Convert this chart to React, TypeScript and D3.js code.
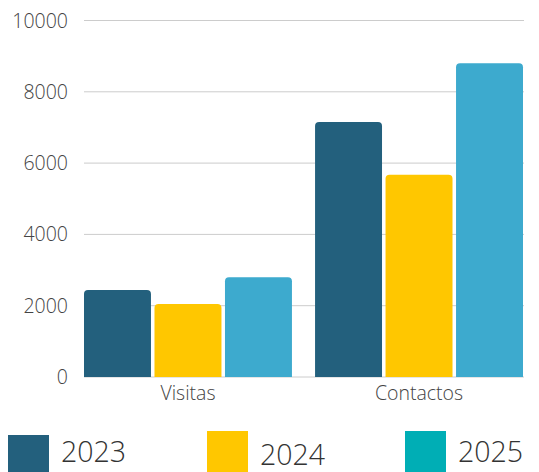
import React from "react";
import * as d3 from "d3";

const categories = ["Visitas", "Contactos"];
const seriesNames = ["2023", "2024", "2025"];
const values2023 = [2440, 7150];
const values2024 = [2050, 5670];
const values2025 = [2800, 8800];
const barColors = ["#23607D", "#FFC700", "#3DAACE"];
const legendColors = ["#23607D", "#FFC700", "#00AEB5"];
const yTicks = [0, 2000, 4000, 6000, 8000, 10000];

const W = 539;
const H = 472;
const font = "'Open Sans', sans-serif";

function topRoundedRect(x: number, y: number, w: number, h: number, r: number) {
  const rr = Math.min(r, h, w / 2);
  return `M${x},${y + h}V${y + rr}Q${x},${y} ${x + rr},${y}H${x + w - rr}Q${x + w},${y} ${x + w},${y + rr}V${y + h}Z`;
}

export default function App() {
  const series = [values2023, values2024, values2025];
  const y = d3.scaleLinear().domain([0, 10000]).range([377, 20.5]);
  const x0 = d3.scaleBand<string>().domain(categories).range([84, 523]).paddingInner(0.1).paddingOuter(0);
  const x1 = d3.scaleBand<string>().domain(seriesNames).range([0, x0.bandwidth()]).paddingInner(0.05).paddingOuter(0);

  const legendX = [8, 207, 405];
  const legendTop = [435, 431, 431];
  const legendTextY = [462, 465, 462];

  return (
    <svg width={W} height={H} style={{ position: "absolute", left: 0, top: 0 }}>
      {yTicks.map((t) => (
        <g key={t}>
          <line x1={84} x2={524} y1={y(t)} y2={y(t)} stroke="#cccccc" strokeWidth={1} />
          <text x={68} y={y(t)} dy="0.36em" textAnchor="end" fontFamily={font} fontWeight={300} fontSize={19.5} fill="#444">
            {t}
          </text>
        </g>
      ))}
      {categories.map((c, ci) => (
        <g key={c} transform={`translate(${x0(c)},0)`}>
          {seriesNames.map((s, si) => {
            const v = series[si][ci];
            const bx = x1(s)!;
            const by = y(v);
            return <path key={s} d={topRoundedRect(bx, by, x1.bandwidth(), y(0) - by, 4)} fill={barColors[si]} />;
          })}
          <text x={x0.bandwidth() / 2} y={400} textAnchor="middle" fontFamily={font} fontWeight={300} fontSize={19.5} fill="#444">
            {c}
          </text>
        </g>
      ))}
      {seriesNames.map((s, i) => (
        <g key={s}>
          <rect x={legendX[i]} y={legendTop[i]} width={41} height={H - legendTop[i]} fill={legendColors[i]} />
          <text x={legendX[i] + 53} y={legendTextY[i]} fontFamily={font} fontWeight={300} fontSize={28.5} fill="#333">
            {s}
          </text>
        </g>
      ))}
    </svg>
  );
}
